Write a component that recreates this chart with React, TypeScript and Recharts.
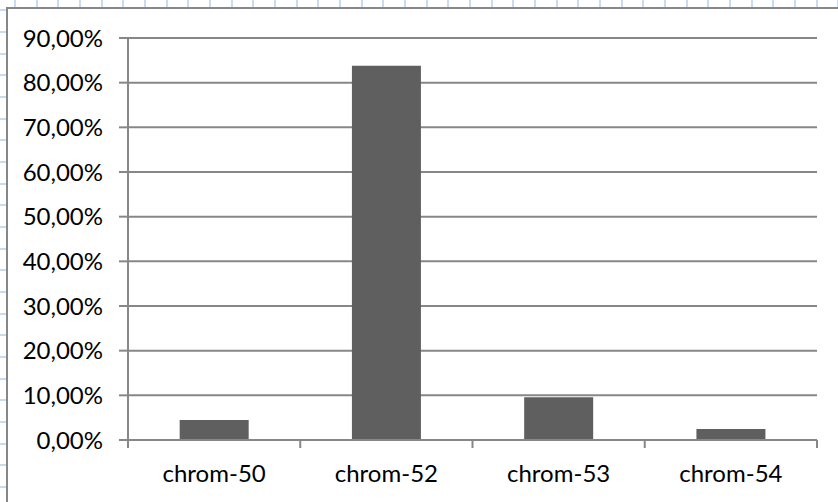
import { Bar, BarChart, CartesianGrid, XAxis, YAxis } from "recharts";

// ── data ────────────────────────────────────────────────────────────────────

const categories = ["chrom-50", "chrom-52", "chrom-53", "chrom-54"];
const shares = [0.0445, 0.838, 0.0955, 0.0245];
const yTicks = [0, 0.1, 0.2, 0.3, 0.4, 0.5, 0.6, 0.7, 0.8, 0.9];
const edgeTicks = [0, 1, 2, 3, 4];

const data = categories.map((name, i) => ({ name, share: shares[i], idx: i }));

// ── styles ──────────────────────────────────────────────────────────────────

const FONT = "Lato, 'Open Sans', sans-serif";
const AXIS = "#878787";
const BAR = "#5f5f5f";
const PAPER_LINE = "#c9dbf3";

const pct = (v: number) => `${(v * 100).toFixed(2).replace(".", ",")}%`;

export default function App() {
  return (
    <div
      style={{
        position: "fixed",
        left: 0,
        top: 0,
        width: 838,
        height: 502,
        overflow: "hidden",
        background: "#fff",
        backgroundImage: `repeating-linear-gradient(90deg, transparent 0 14px, ${PAPER_LINE} 14px 16px, transparent 16px 21.67px), repeating-linear-gradient(0deg, transparent 0 14px, ${PAPER_LINE} 14px 16px, transparent 16px 21.67px)`,
      }}
    >
      {/* chart frame, runs off the right and bottom edges */}
      <div
        style={{
          position: "absolute",
          left: 6,
          top: 7,
          width: 900,
          height: 600,
          background: "#fff",
          border: `2px solid ${AXIS}`,
        }}
      />
      <div style={{ position: "absolute", left: 0, top: 0 }}>
        <BarChart
          width={838}
          height={502}
          data={data}
          margin={{ top: 38, right: 21, bottom: 1, left: 0 }}
          barCategoryGap="30%"
        >
          <CartesianGrid xAxisId="b" vertical={false} stroke={AXIS} strokeWidth={2} />
          {/* boundary ticks between categories, sits on the plot edge */}
          <XAxis
            xAxisId="a"
            type="number"
            dataKey="idx"
            domain={[0, 4]}
            allowDataOverflow
            ticks={edgeTicks}
            interval={0}
            height={1}
            stroke={AXIS}
            strokeWidth={2}
            tickSize={8}
            tickFormatter={() => ""}
          />
          <XAxis
            xAxisId="b"
            dataKey="name"
            height={60}
            axisLine={false}
            tickLine={false}
            tickSize={0}
            tickMargin={24}
            tick={{ fontSize: 24, fill: "#000", fontFamily: FONT }}
            interval={0}
          />
          <YAxis
            width={128}
            domain={[0, 0.9]}
            ticks={yTicks}
            tickFormatter={pct}
            stroke={AXIS}
            strokeWidth={2}
            tickSize={9}
            tickMargin={16}
            tick={{ fontSize: 24, fill: "#000", fontFamily: FONT }}
          />
          <Bar xAxisId="b" dataKey="share" fill={BAR} isAnimationActive={false} />
        </BarChart>
      </div>
    </div>
  );
}
